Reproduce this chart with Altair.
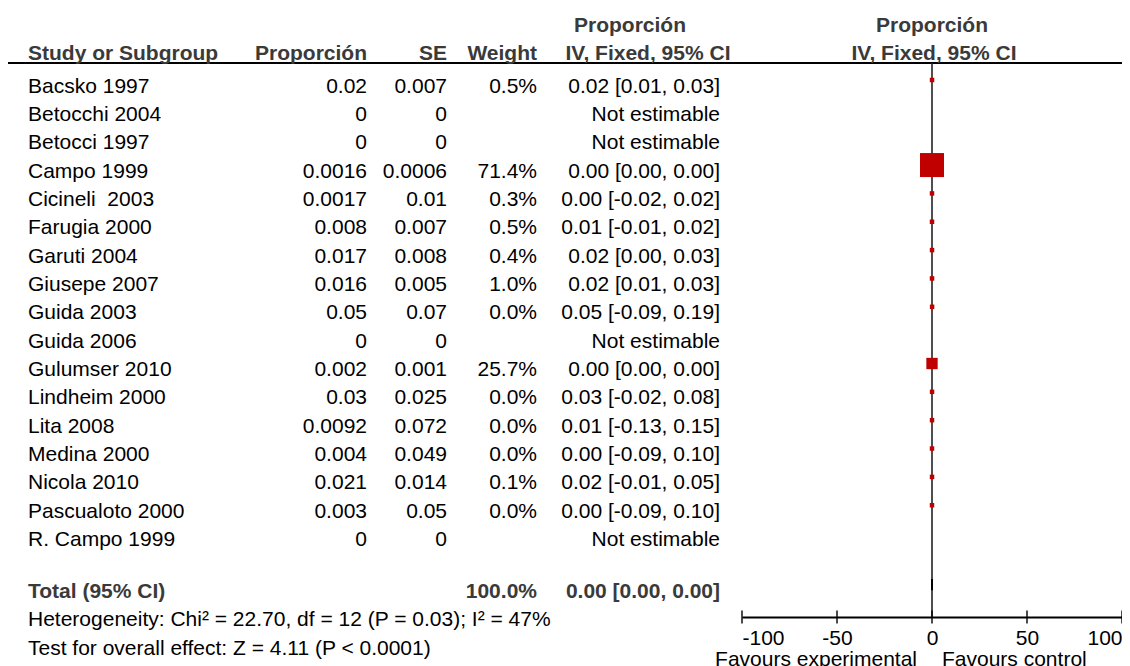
import altair as alt
import pandas as pd

# ---------------- data ----------------
studies = ["Bacsko 1997", "Betocchi 2004", "Betocci 1997", "Campo 1999", "Cicineli\u00a0 2003",
           "Farugia 2000", "Garuti 2004", "Giusepe 2007", "Guida 2003", "Guida 2006",
           "Gulumser 2010", "Lindheim 2000", "Lita 2008", "Medina 2000", "Nicola 2010",
           "Pascualoto 2000", "R. Campo 1999"]
proporcion_txt = ["0.02", "0", "0", "0.0016", "0.0017", "0.008", "0.017", "0.016", "0.05", "0",
                  "0.002", "0.03", "0.0092", "0.004", "0.021", "0.003", "0"]
se_txt = ["0.007", "0", "0", "0.0006", "0.01", "0.007", "0.008", "0.005", "0.07", "0",
          "0.001", "0.025", "0.072", "0.049", "0.014", "0.05", "0"]
weight_txt = ["0.5%", "", "", "71.4%", "0.3%", "0.5%", "0.4%", "1.0%", "0.0%", "",
              "25.7%", "0.0%", "0.0%", "0.0%", "0.1%", "0.0%", ""]
ci_txt = ["0.02 [0.01, 0.03]", "Not estimable", "Not estimable", "0.00 [0.00, 0.00]",
          "0.00 [-0.02, 0.02]", "0.01 [-0.01, 0.02]", "0.02 [0.00, 0.03]", "0.02 [0.01, 0.03]",
          "0.05 [-0.09, 0.19]", "Not estimable", "0.00 [0.00, 0.00]", "0.03 [-0.02, 0.08]",
          "0.01 [-0.13, 0.15]", "0.00 [-0.09, 0.10]", "0.02 [-0.01, 0.05]", "0.00 [-0.09, 0.10]",
          "Not estimable"]
est = [0.02, None, None, 0.0016, 0.0017, 0.008, 0.017, 0.016, 0.05, None,
       0.002, 0.03, 0.0092, 0.004, 0.021, 0.003, None]
ci_low = [0.01, None, None, 0.00, -0.02, -0.01, 0.00, 0.01, -0.09, None,
          0.00, -0.02, -0.13, -0.09, -0.01, -0.09, None]
ci_high = [0.03, None, None, 0.00, 0.02, 0.02, 0.03, 0.03, 0.19, None,
           0.00, 0.08, 0.15, 0.10, 0.05, 0.10, None]
weight_num = [0.5, None, None, 71.4, 0.3, 0.5, 0.4, 1.0, 0.0, None,
              25.7, 0.0, 0.0, 0.0, 0.1, 0.0, None]

header_cols = ["Study or Subgroup", "Proporción", "SE", "Weight"]
ci_header = ["Proporción", "IV, Fixed, 95% CI"]
plot_header = ["Proporción", "IV, Fixed, 95% CI"]

total_label = "Total (95% CI)"
total_weight = "100.0%"
total_ci = "0.00 [0.00, 0.00]"
total_est = [0.00]
heterogeneity = "Heterogeneity: Chi² = 22.70, df = 12 (P = 0.03); I² = 47%"
overall = "Test for overall effect: Z = 4.11 (P < 0.0001)"
axis_ticks = [-100, -50, 0, 50, 100]
fav_left = "Favours experimental"
fav_right = "Favours control"

# ---------------- layout ----------------
FONT = "Liberation Sans"
FS = 21
HDR = "#3a3a3a"
RED = "#C00000"
W, H = 1114, 609
n = len(studies)

df = pd.DataFrame({
    "row": list(range(n)), "study": studies, "prop": proporcion_txt, "se": se_txt,
    "weight": weight_txt, "ci": ci_txt, "est": est, "lo": ci_low, "hi": ci_high,
    "w": weight_num,
})

Y_SCALE = alt.Scale(domain=[0, 20], range=[72, 72 + 20 * 28.35])
X_SCALE = alt.Scale(domain=[-100, 100], range=[734, 1114])
X_AXIS = alt.Axis(values=axis_ticks, ticks=False, tickSize=0, domainColor="black",
                  domainWidth=2, labelFont=FONT, labelFontSize=FS, labelColor="black",
                  labelPadding=10, labelFlush=True, grid=False, title=None,
                  labelExpr="toString(datum.value)")
Y = alt.Y("row:Q", scale=Y_SCALE, axis=None)
TDY = 6.5


def col_text(data, field, xpx, align, bold=False, color="black"):
    return alt.Chart(data).mark_text(
        align=align, baseline="middle", font=FONT, fontSize=FS, color=color,
        fontWeight="bold" if bold else "normal", dy=TDY,
    ).encode(x=alt.value(xpx), y=Y, text=f"{field}:N")


def label(txt, xpx, ypx, align, bold=True, color=HDR):
    return alt.Chart(pd.DataFrame({"t": [txt]})).mark_text(
        align=align, baseline="middle", font=FONT, fontSize=FS, color=color,
        fontWeight="bold" if bold else "normal",
    ).encode(x=alt.value(xpx), y=alt.value(ypx), text="t:N")


layers = []

# header rule
layers.append(alt.Chart(pd.DataFrame({"a": [0]})).mark_rule(color="black", strokeWidth=2)
              .encode(x=alt.value(0), x2=alt.value(W), y=alt.value(55)))

# zero line
layers.append(alt.Chart(pd.DataFrame({"z": [0]})).mark_rule(color="#222222", strokeWidth=1.6)
              .encode(x=alt.X("z:Q", scale=X_SCALE, axis=X_AXIS),
                      y=alt.value(55), y2=alt.value(H)))

# axis ticks crossing the axis line
layers.append(alt.Chart(pd.DataFrame({"tick": axis_ticks})).mark_tick(
    orient="vertical", size=13, thickness=2, color="black")
    .encode(x=alt.X("tick:Q", scale=X_SCALE, axis=X_AXIS), y=alt.value(H)))

# CI whiskers
layers.append(alt.Chart(df).transform_filter("isValid(datum.est)").mark_rule(
    color="black", strokeWidth=1)
    .encode(x=alt.X("lo:Q", scale=X_SCALE, axis=X_AXIS), x2="hi:Q", y=Y))

# squares
layers.append(alt.Chart(df).transform_filter("isValid(datum.est)").mark_square(
    filled=True, opacity=1, color=RED)
    .encode(x=alt.X("est:Q", scale=X_SCALE, axis=X_AXIS), y=Y,
            size=alt.Size("w:Q", scale=alt.Scale(type="pow", exponent=1.6,
                                                  domain=[0, max(w for w in weight_num if w is not None)],
                                                  range=[20, 576]), legend=None)))

# total diamond (zero width)
tot = pd.DataFrame({"est": total_est, "row": [n + 0.8]})
layers.append(alt.Chart(tot).transform_calculate(r0="datum.row - 0.2", r1="datum.row + 0.2")
              .mark_rule(color="black", strokeWidth=2)
              .encode(x=alt.X("est:Q", scale=X_SCALE, axis=X_AXIS),
                      y=alt.Y("r0:Q", scale=Y_SCALE, axis=None), y2="r1:Q"))

# table columns
layers.append(col_text(df, "study", 20, "left"))
layers.append(col_text(df, "prop", 359, "right"))
layers.append(col_text(df, "se", 439, "right"))
layers.append(col_text(df, "weight", 529, "right"))
layers.append(col_text(df, "ci", 712, "right"))

# headers
layers.append(label(header_cols[0], 20, 45.5, "left"))
layers.append(label(header_cols[1], 359, 45.5, "right"))
layers.append(label(header_cols[2], 439, 45.5, "right"))
layers.append(label(header_cols[3], 529, 45.5, "right"))
layers.append(label(ci_header[0], 622, 18, "center"))
layers.append(label(ci_header[1], 640, 45.5, "center"))
layers.append(label(plot_header[0], 924, 18, "center"))
layers.append(label(plot_header[1], 926, 45.5, "center"))

# summary rows
summ = pd.DataFrame({"row": [n + 0.83], "lab": [total_label], "wt": [total_weight], "ci": [total_ci]})
layers.append(col_text(summ, "lab", 20, "left", bold=True, color=HDR))
layers.append(col_text(summ, "wt", 529, "right", bold=True, color=HDR))
layers.append(col_text(summ, "ci", 712, "right", bold=True, color=HDR))
notes = pd.DataFrame({"row": [n + 1.83, n + 2.83], "lab": [heterogeneity, overall]})
layers.append(col_text(notes, "lab", 20, "left"))

# favours labels (partly below the bottom edge, as in the reference)
fav = pd.DataFrame({"z": [0], "l": [fav_left], "r": [fav_right]})
layers.append(alt.Chart(fav).mark_text(align="right", baseline="middle", font=FONT, fontSize=FS,
                                       color="black", dx=-15)
              .encode(x=alt.X("z:Q", scale=X_SCALE, axis=X_AXIS), y=alt.value(652), text="l:N"))
layers.append(alt.Chart(fav).mark_text(align="left", baseline="middle", font=FONT, fontSize=FS,
                                       color="black", dx=10)
              .encode(x=alt.X("z:Q", scale=X_SCALE, axis=X_AXIS), y=alt.value(652), text="r:N"))

chart = alt.layer(*layers).properties(
    width=W, height=H,
    autosize=alt.AutoSizeParams(type="none"),
    padding={"left": 0, "right": 0, "top": 0, "bottom": 49},
    background="white",
).configure_view(stroke=None)

chart.save("out.html", embed_options={"renderer": "svg", "actions": False})
